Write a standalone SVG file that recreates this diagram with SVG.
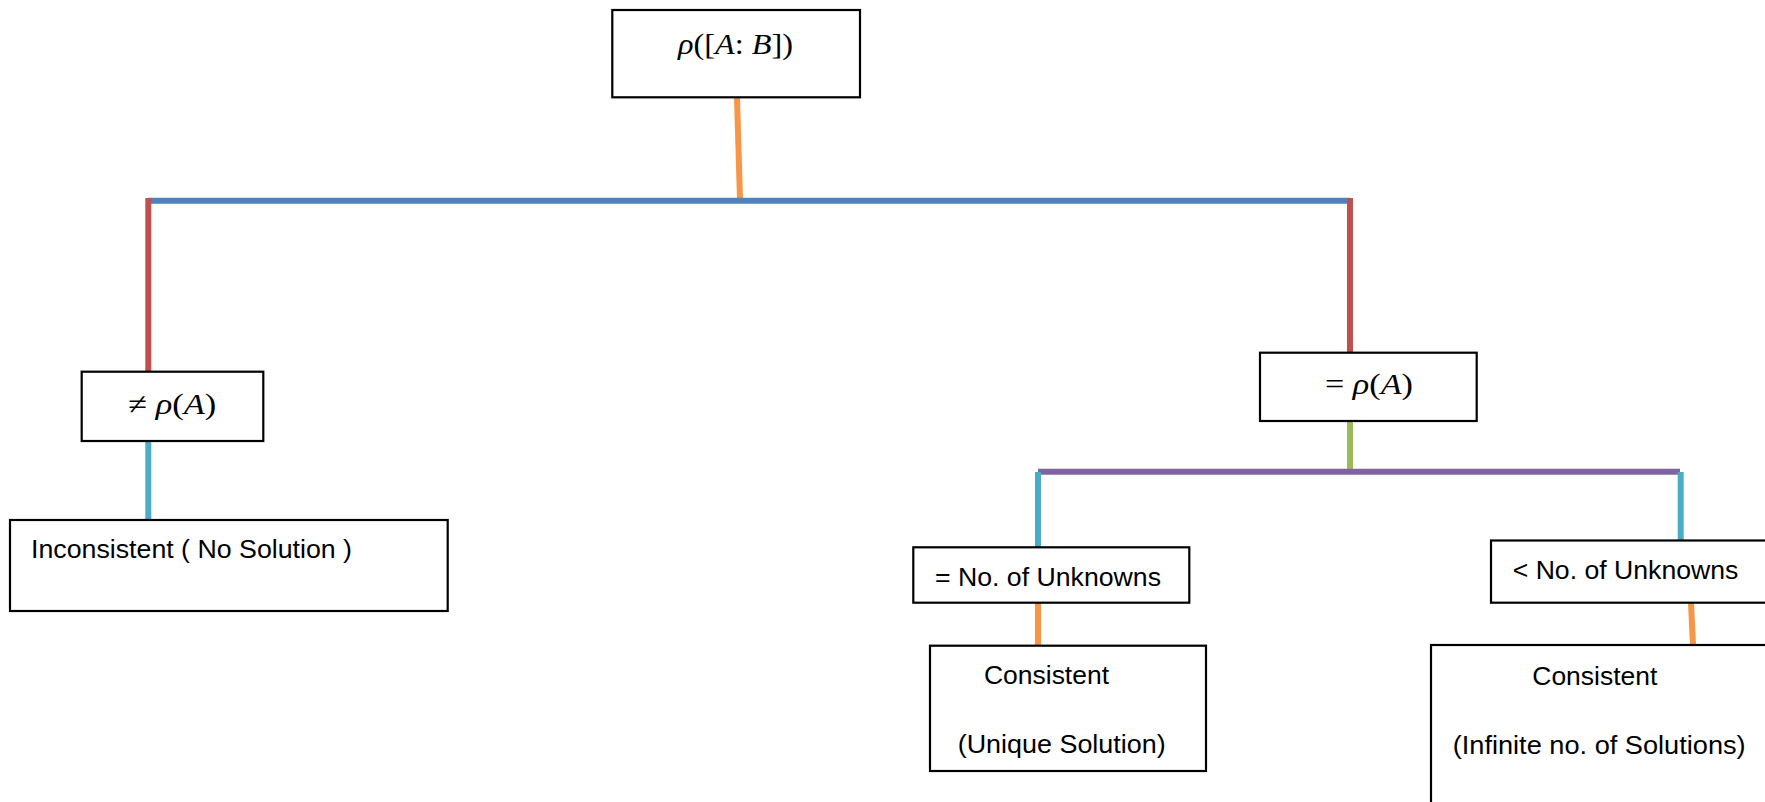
<svg xmlns="http://www.w3.org/2000/svg" width="1765" height="802" viewBox="0 0 1765 802">
<style>
.box{fill:#fff;stroke:#000;stroke-width:2.2}
.t{font-family:"Liberation Sans",Arial,sans-serif;font-size:26px;fill:#000}
.m{font-family:"Liberation Serif","DejaVu Serif",serif;font-size:30px;fill:#000}
.i{font-style:italic}
.c{fill:none;stroke-width:6}
</style>
<rect width="1765" height="802" fill="#fff"/>
<g id="connectors">
<line class="c" x1="737" y1="97" x2="740" y2="200" stroke="#F79646"/>
<line class="c" x1="148" y1="200.7" x2="1350" y2="200.7" stroke="#4F81BD"/>
<line class="c" x1="148.3" y1="198" x2="148.3" y2="372" stroke="#C0504D"/>
<line class="c" x1="1350" y1="198" x2="1350" y2="353" stroke="#C0504D"/>
<line class="c" x1="148.3" y1="441" x2="148.3" y2="520" stroke="#4BACC6"/>
<line class="c" x1="1350" y1="421" x2="1350" y2="469" stroke="#9BBB59"/>
<line class="c" x1="1038" y1="471.7" x2="1680" y2="471.7" stroke="#8064A2"/>
<line class="c" x1="1038" y1="472" x2="1038" y2="547.5" stroke="#4BACC6"/>
<line class="c" x1="1680.7" y1="472" x2="1680.7" y2="540" stroke="#4BACC6"/>
<line class="c" x1="1038" y1="603" x2="1038" y2="646" stroke="#F79646"/>
<line class="c" x1="1691" y1="603" x2="1693" y2="645" stroke="#F79646"/>
</g>
<g id="n-root">
<rect class="box" x="612.3" y="10" width="247.7" height="87.3"/>
<text class="m" x="678" y="54" textLength="115" lengthAdjust="spacingAndGlyphs"><tspan class="i">ρ</tspan>([<tspan class="i">A</tspan>: <tspan class="i">B</tspan>])</text>
</g>
<g id="n-neq">
<rect class="box" x="81.7" y="371.7" width="181.6" height="69.3"/>
<text class="m" x="128.3" y="414" textLength="88" lengthAdjust="spacingAndGlyphs">≠ <tspan class="i">ρ</tspan>(<tspan class="i">A</tspan>)</text>
</g>
<g id="n-eq">
<rect class="box" x="1260" y="352.7" width="216.7" height="68.3"/>
<text class="m" x="1325" y="394" textLength="88" lengthAdjust="spacingAndGlyphs">= <tspan class="i">ρ</tspan>(<tspan class="i">A</tspan>)</text>
</g>
<g id="n-inconsistent">
<rect class="box" x="10" y="520" width="437.7" height="91"/>
<text class="t" x="31" y="557.7" textLength="321" lengthAdjust="spacingAndGlyphs">Inconsistent ( No Solution )</text>
</g>
<g id="n-equnk">
<rect class="box" x="913.3" y="547.3" width="276" height="55.4"/>
<text class="t" x="935" y="585.7" textLength="226" lengthAdjust="spacingAndGlyphs">= No. of Unknowns</text>
</g>
<g id="n-ltunk">
<rect class="box" x="1491" y="540.5" width="300" height="62.2"/>
<text class="t" x="1512.7" y="579.3" textLength="225.7" lengthAdjust="spacingAndGlyphs">&lt; No. of Unknowns</text>
</g>
<g id="n-unique">
<rect class="box" x="930" y="645.7" width="276" height="125.3"/>
<text class="t" x="984" y="684.3" textLength="125" lengthAdjust="spacingAndGlyphs">Consistent</text>
<text class="t" x="957.7" y="753.3" textLength="208" lengthAdjust="spacingAndGlyphs">(Unique Solution)</text>
</g>
<g id="n-infinite">
<rect class="box" x="1431" y="645" width="360" height="200"/>
<text class="t" x="1532.3" y="685" textLength="125" lengthAdjust="spacingAndGlyphs">Consistent</text>
<text class="t" x="1452.7" y="754" textLength="293" lengthAdjust="spacingAndGlyphs">(Infinite no. of Solutions)</text>
</g>
</svg>
